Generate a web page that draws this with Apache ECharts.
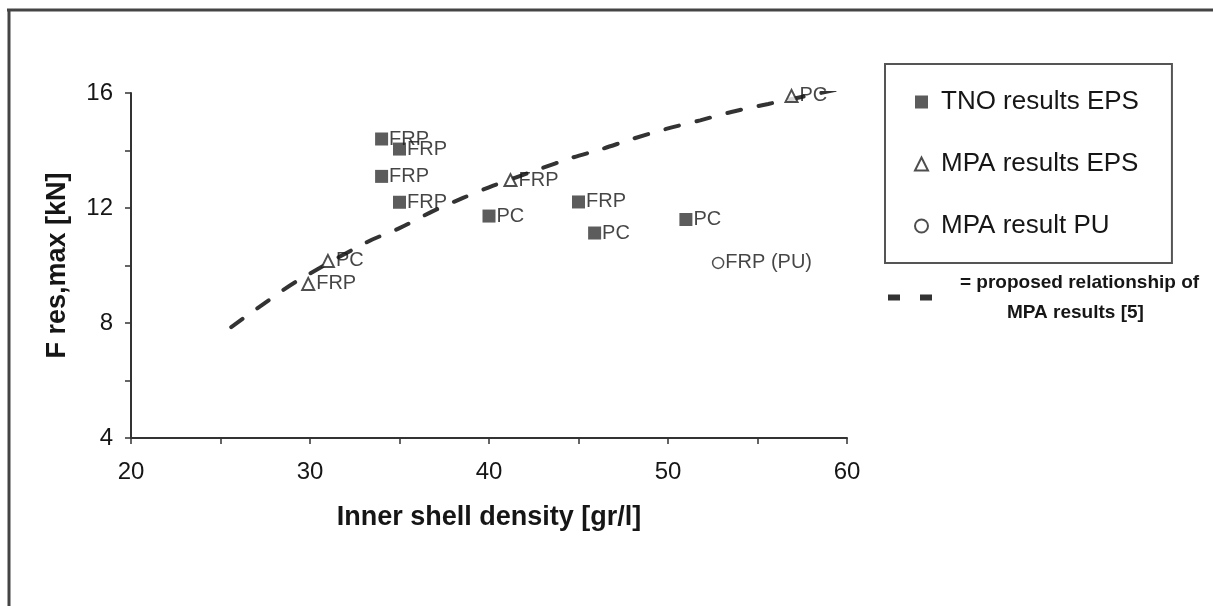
<!DOCTYPE html>
<html>
<head>
<meta charset="utf-8">
<script src="https://cdn.jsdelivr.net/npm/echarts@6/dist/echarts.min.js"></script>
<style>
  html, body { margin: 0; padding: 0; background: #fff; }
  #chart { width: 1213px; height: 606px; }
</style>
</head>
<body>
<div id="chart"></div>
<script>
// TNO results EPS (filled squares)
var tnoX = [34, 35, 34, 35, 40, 45, 45.9, 51];
var tnoY = [14.4, 14.05, 13.1, 12.2, 11.72, 12.21, 11.13, 11.6];
var tnoLabel = ['FRP', 'FRP', 'FRP', 'FRP', 'PC', 'FRP', 'PC', 'PC'];

// MPA results EPS (open triangles)
var mpaX = [29.9, 31, 41.2, 56.9];
var mpaY = [9.36, 10.16, 12.97, 15.9];
var mpaLabel = ['FRP', 'PC', 'FRP', 'PC'];

// MPA result PU (open circle)
var puX = [52.8];
var puY = [10.09];
var puLabel = ['FRP (PU)'];

// proposed relationship, points
var curveX = [25.6, 27.65, 29.2, 33.2, 35.0, 36.9, 38.55, 40.2, 42.85, 44.6, 46.3, 48.0, 49.9, 51.8, 53.6, 55.6, 59.3, 60];
var curveY = [7.86, 8.77, 9.43, 10.82, 11.3, 11.9, 12.35, 12.77, 13.36, 13.74, 14.05, 14.4, 14.75, 15.05, 15.35, 15.62, 16.1, 16.2];

var xTicks = [20, 30, 40, 50, 60];
var yTicks = [4, 8, 12, 16];

var FONT = '"Liberation Sans", Arial, sans-serif';
var INK = '#161616';

function pts(xs, ys, names) {
    return xs.map(function (x, i) {
        return names ? { value: [x, ys[i]], name: names[i] } : [x, ys[i]];
    });
}

var lineName = 'proposed relationship of MPA results [5]';

var myChart = echarts.init(document.getElementById('chart'));
myChart.setOption({
    animation: false,
    backgroundColor: '#fff',
    textStyle: { fontFamily: FONT },
    grid: { left: 131, right: 366, top: 93, bottom: 168 },
    xAxis: {
        type: 'value',
        min: 20,
        max: 60,
        interval: 5,
        name: 'Inner shell density [gr/l]',
        nameLocation: 'middle',
        nameGap: 66,
        nameTextStyle: { fontSize: 27, fontWeight: 'bold', color: INK, fontFamily: FONT },
        axisLine: { lineStyle: { color: '#333', width: 2 } },
        axisTick: { length: 6, lineStyle: { color: '#333', width: 1.5 } },
        axisLabel: {
            fontSize: 24, color: INK, margin: 22,
            formatter: function (v) { return xTicks.indexOf(v) >= 0 ? String(v) : ''; }
        },
        splitLine: { show: false }
    },
    yAxis: {
        type: 'value',
        min: 4,
        max: 16,
        interval: 2,
        name: 'F res,max [kN]',
        nameLocation: 'middle',
        nameGap: 60,
        nameTextStyle: { fontSize: 27, fontWeight: 'bold', color: INK, fontFamily: FONT },
        axisLine: { show: true, lineStyle: { color: '#333', width: 2 } },
        axisTick: { show: true, length: 6, lineStyle: { color: '#333', width: 1.5 } },
        axisLabel: {
            fontSize: 24, color: INK, margin: 18,
            formatter: function (v) { return yTicks.indexOf(v) >= 0 ? String(v) : ''; }
        },
        splitLine: { show: false }
    },
    legend: [
        {
            orient: 'vertical',
            left: 885,
            top: 64,
            padding: [23, 33, 22, 29],
            itemGap: 32,
            itemWidth: 13,
            itemHeight: 13,
            borderColor: '#555',
            borderWidth: 2,
            textStyle: { fontSize: 26, color: INK, lineHeight: 30, fontFamily: FONT, padding: [0, 0, 0, 8] },
            data: [
                { name: 'TNO results EPS', icon: 'rect' },
                { name: 'MPA results EPS', icon: 'triangle' },
                { name: 'MPA result PU', icon: 'circle' }
            ]
        },
        {
            orient: 'vertical',
            left: 888,
            top: 273,
            padding: 0,
            itemWidth: 44,
            itemHeight: 6,
            data: [{ name: lineName, icon: 'path://M0,0h12v6h-12z M32,0h12v6h-12z' }],
            itemStyle: { color: '#333' },
            textStyle: {
                fontFamily: FONT,
                rich: {
                    a: { fontSize: 19, fontWeight: 'bold', color: INK, lineHeight: 30, padding: [0, 0, 0, 23] },
                    b: { fontSize: 19, fontWeight: 'bold', color: INK, lineHeight: 30, padding: [0, 0, 0, 70] }
                }
            },
            formatter: function () {
                return '{a|= proposed relationship of}\n{b|MPA results [5]}';
            }
        }
    ],
    graphic: [
        { type: 'line', shape: { x1: 7, y1: 10, x2: 1213, y2: 10 }, style: { stroke: '#444', lineWidth: 3 } },
        { type: 'line', shape: { x1: 9, y1: 9, x2: 9, y2: 606 }, style: { stroke: '#444', lineWidth: 3 } }
    ],
    series: [
        {
            name: lineName,
            type: 'line',
            data: pts(curveX, curveY),
            smooth: 0.3,
            showSymbol: false,
            lineStyle: { color: '#333', width: 4, type: [14, 18], cap: 'round' },
            itemStyle: { color: '#333' },
            z: 1
        },
        {
            name: 'TNO results EPS',
            type: 'scatter',
            symbol: 'rect',
            symbolSize: 13,
            data: pts(tnoX, tnoY, tnoLabel),
            itemStyle: { color: '#333' },
            label: {
                show: true, position: 'right', distance: 1,
                fontSize: 20, color: INK, fontFamily: FONT,
                formatter: function (p) { return p.name; }
            },
            z: 3
        },
        {
            name: 'MPA results EPS',
            type: 'scatter',
            symbol: 'triangle',
            symbolSize: 12,
            data: pts(mpaX, mpaY, mpaLabel),
            itemStyle: { color: '#fff', borderColor: '#222', borderWidth: 2 },
            label: {
                show: true, position: 'right', distance: 1,
                fontSize: 20, color: INK, fontFamily: FONT,
                formatter: function (p) { return p.name; }
            },
            z: 3
        },
        {
            name: 'MPA result PU',
            type: 'scatter',
            symbol: 'circle',
            symbolSize: 11,
            data: pts(puX, puY, puLabel),
            itemStyle: { color: '#fff', borderColor: '#222', borderWidth: 1.5 },
            label: {
                show: true, position: 'right', distance: 1,
                fontSize: 20, color: INK, fontFamily: FONT,
                formatter: function (p) { return p.name; }
            },
            z: 3
        }
    ]
});
</script>
</body>
</html>
